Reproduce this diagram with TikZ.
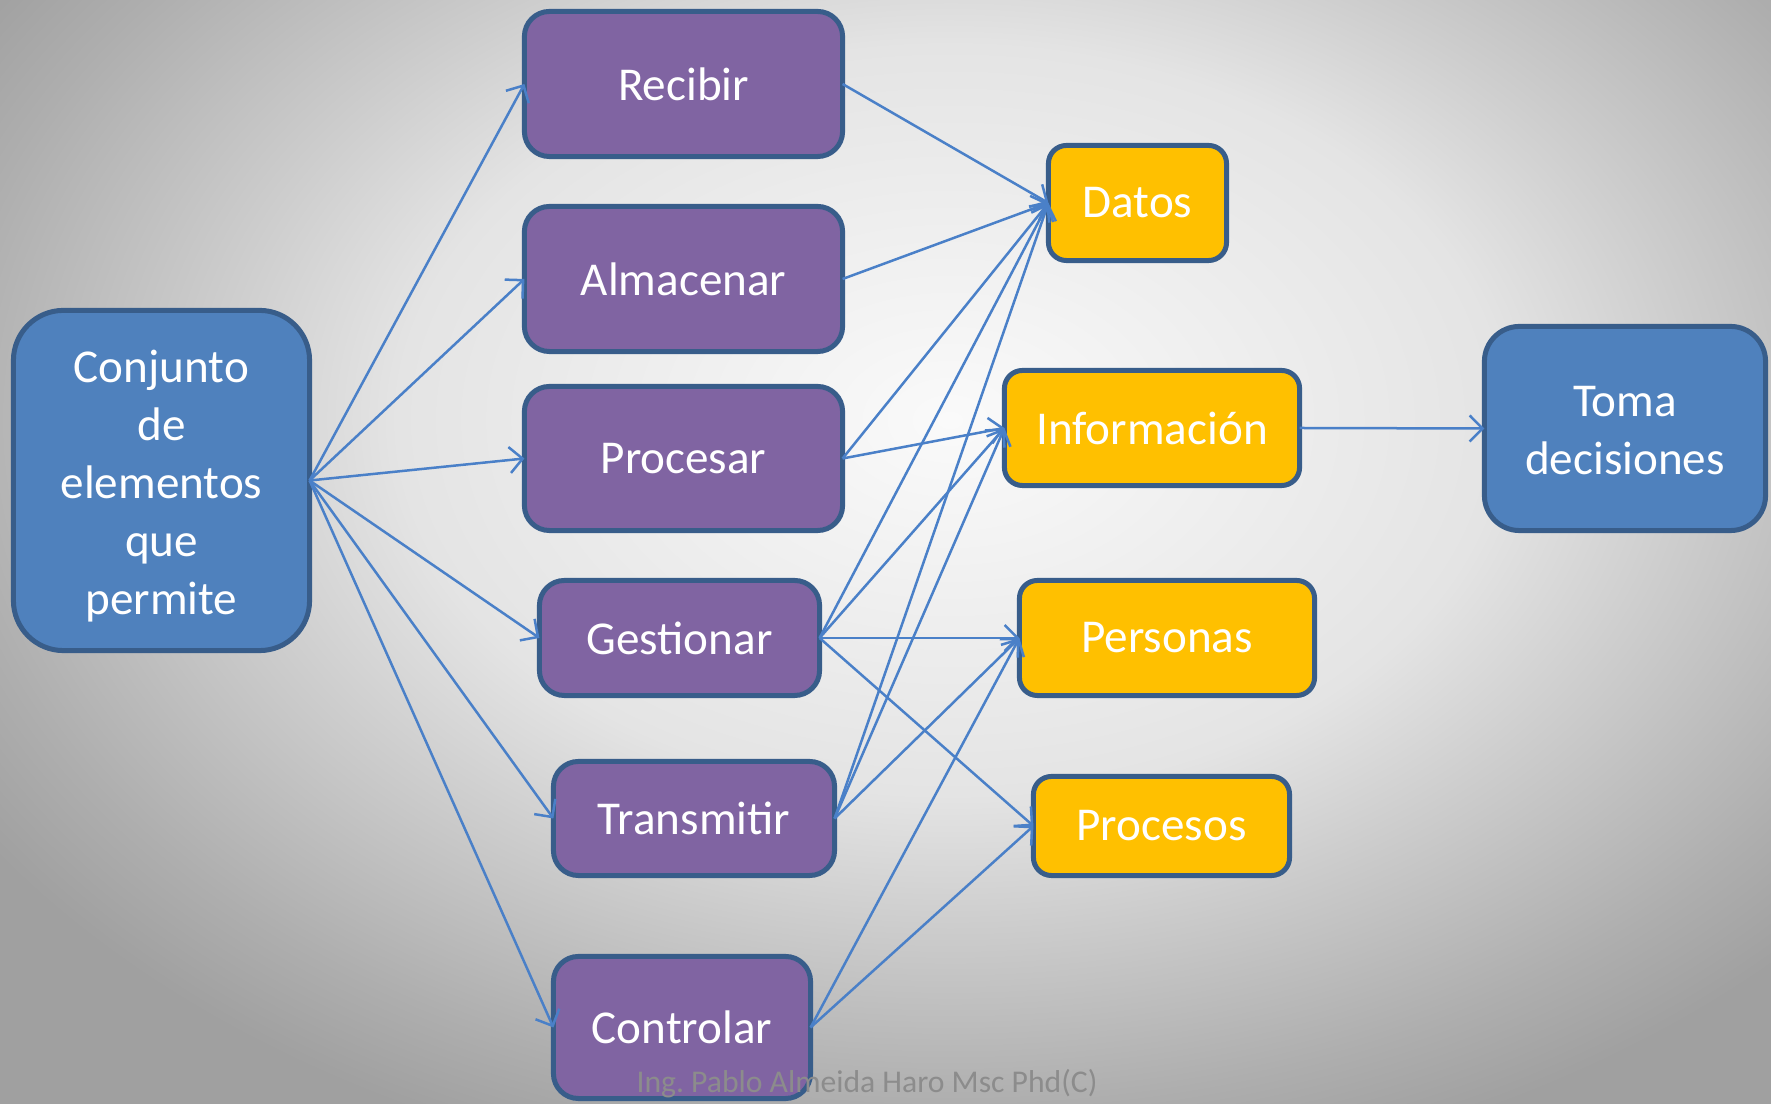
\documentclass[tikz,border=0pt]{standalone}
\usepackage{fontspec}
\setmainfont{Carlito}
\usetikzlibrary{arrows.meta}
\definecolor{purp}{HTML}{8064A2}
\definecolor{yell}{HTML}{FFC000}
\definecolor{blu}{HTML}{4F81BD}
\definecolor{bord}{HTML}{385D8A}
\definecolor{linecol}{HTML}{4A80C8}
\definecolor{bgin}{HTML}{FAFAFA}
\definecolor{bgone}{HTML}{E4E4E4}
\definecolor{bgtwo}{HTML}{CECECE}
\definecolor{bgthree}{HTML}{AEAEAE}
\definecolor{bgout}{HTML}{A0A0A0}
\definecolor{foot}{HTML}{8C8C8C}
\pgfdeclareradialshading{bgshade}{\pgfpoint{0bp}{0bp}}{color(0bp)=(bgin); color(12bp)=(bgone); color(16bp)=(bgtwo); color(22bp)=(bgthree); color(25bp)=(bgout); color(50bp)=(bgout)}
\begin{document}
\frenchspacing
\begin{tikzpicture}[x=0.01cm,y=-0.01cm,
  box/.style={draw=bord, line width=0.05cm, text=white, inner sep=0pt, outer sep=0pt,
    align=center, font=\fontsize{13.4}{16.5}\selectfont},
  boxtext/.style={text=white, inner sep=0pt, align=center, font=\fontsize{13.4}{16.5}\selectfont},
  purpbox/.style={box, fill=purp, rounded corners=0.25cm},
  yellbox/.style={box, fill=yell, rounded corners=0.18cm},
  blubox/.style={box, fill=blu},
  conn/.style={draw=linecol, line width=0.025cm, -{Straight Barb[length=0.13cm,width=0.26cm]}}]
\useasboundingbox (0,0) rectangle (1771,1104);
\begin{scope}
\clip (0,0) rectangle (1771,1104);
\shade[shading=bgshade] (-200,-360) rectangle (2100,1200);
\end{scope}

\node[blubox, rounded corners=0.5cm, minimum width=2.96cm, minimum height=3.40cm] (conj) at (161.5,480.5) {};
\node[boxtext] (conjtext) at ([yshift=-0.055cm]conj.center)
  {Conjunto\\de\\elementos\\que\\permite};
\node[purpbox, minimum width=3.18cm, minimum height=1.45cm] (recibir) at (683.5,84) {Recibir};
\node[purpbox, minimum width=3.18cm, minimum height=1.45cm] (almacenar) at (683.5,279) {Almacenar};
\node[purpbox, minimum width=3.18cm, minimum height=1.44cm] (procesar) at (683.5,458.5) {Procesar};
\node[purpbox, minimum width=2.80cm, minimum height=1.15cm] (gestionar) at (679.5,638) {Gestionar};
\node[purpbox, minimum width=2.81cm, minimum height=1.14cm] (transmitir) at (694,818.5) {Transmitir};
\node[purpbox, minimum width=2.57cm, minimum height=1.42cm] (controlar) at (682,1027.5) {Controlar};

\node[yellbox, minimum width=1.78cm, minimum height=1.15cm] (datos) at (1137.5,203) {Datos};
\node[yellbox, minimum width=2.95cm, minimum height=1.15cm] (info) at (1152,428) {Información};
\node[yellbox, minimum width=2.95cm, minimum height=1.15cm] (personas) at (1167,638) {Personas};
\node[yellbox, minimum width=2.56cm, minimum height=0.99cm] (procesos) at (1161.5,826) {Procesos};

\node[blubox, rounded corners=0.35cm, minimum width=2.81cm, minimum height=2.04cm] (toma) at (1625,428.5) {};
\node[boxtext] (tomatext) at ([yshift=-0.02cm]toma.center) {Toma\\decisiones};

\foreach \t in {recibir,almacenar,procesar,gestionar,transmitir,controlar}
  \draw[conn] (conj.east) -- (\t.west);

\draw[conn] (recibir.east) -- (datos.west);
\draw[conn] (almacenar.east) -- (datos.west);
\draw[conn] (procesar.east) -- (datos.west);
\draw[conn] (procesar.east) -- (info.west);
\draw[conn] (gestionar.east) -- (datos.west);
\draw[conn] (gestionar.east) -- (info.west);
\draw[conn] (gestionar.east) -- (personas.west);
\draw[conn] (gestionar.east) -- (procesos.west);
\draw[conn] (transmitir.east) -- (datos.west);
\draw[conn] (transmitir.east) -- (info.west);
\draw[conn] (transmitir.east) -- (personas.west);
\draw[conn] (controlar.east) -- (personas.west);
\draw[conn] (controlar.east) -- (procesos.west);
\draw[conn] (info.east) -- (toma.west);

\node[text=foot, inner sep=0pt, font=\fontsize{9}{11}\selectfont] (footer) at (867,1084)
  {Ing. Pablo Almeida Haro Msc Phd(C)};
\end{tikzpicture}
\end{document}
